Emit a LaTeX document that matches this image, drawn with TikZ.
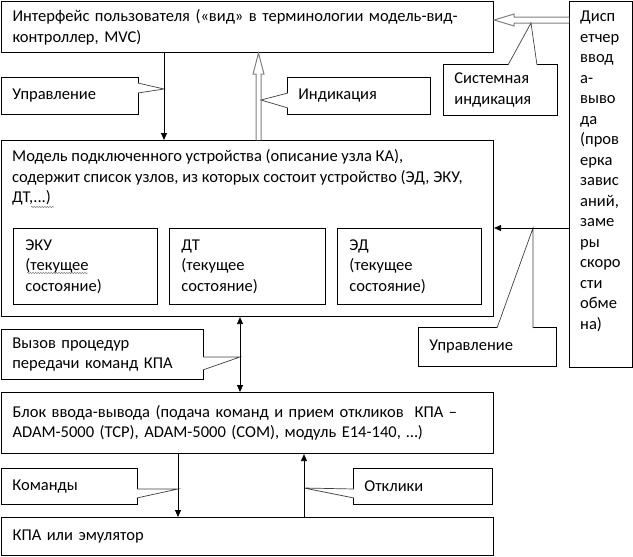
\documentclass[tikz,border=0pt]{standalone}
\usepackage{fontspec}
\setmainfont{Carlito}
\usetikzlibrary{arrows.meta,calc,decorations.pathmorphing}

\tikzset{
  box/.style={draw, line width=1.1pt, anchor=north west, inner xsep=11pt, inner ysep=0pt, align=left},
  part/.style={draw, line width=0.9pt, anchor=north west, inner xsep=12pt, inner ysep=0pt, align=left},
  note/.style={draw, line width=0.8pt, anchor=north west, inner xsep=11pt, inner ysep=0pt, align=left},
  txt/.style={anchor=north west, inner sep=0pt, align=left},
  wedge/.style={draw=black!75, line width=0.7pt, fill=white},
  arr/.style={line width=0.8pt, -{Triangle[length=7pt,width=6pt]}},
  arrboth/.style={line width=0.8pt, {Triangle[length=7pt,width=6pt]}-{Triangle[length=7pt,width=6pt]}},
  hollow/.style={draw=black!50, line width=1pt, fill=white},
  squig/.style={draw=black!50, line width=0.5pt, decorate, decoration={snake, amplitude=0.7pt, segment length=2.6pt}}
}

\begin{document}
\begin{tikzpicture}[x=1pt, y=-1pt, font=\fontsize{16.5}{20.5}\selectfont]
\useasboundingbox (0,0) rectangle (633,557);

% blocks
\node[box, text width=470pt, minimum height=51pt] (ui) at (1,1) {Интерфейс пользователя («вид» в терминологии модель-вид-\\контроллер, MVC)};
\node[box, minimum width=492pt, minimum height=176pt] (mdl) at (1,140) {};
\node[txt] (mdl-t) at (12,147) {\strut Модель подключенного устройства (описание узла КА),\\содержит список узлов, из которых состоит устройство (ЭД, ЭКУ,\\ДТ,...)};
\node[part, text width=120pt, minimum height=76pt] (eku) at (13,228) {ЭКУ\\(текущее\\состояние)};
\node[part, text width=132pt, minimum height=76pt] (dt) at (169,228) {ДТ\\(текущее\\состояние)};
\node[part, text width=120pt, minimum height=76pt] (ed) at (337,228) {ЭД\\(текущее\\состояние)};
\node[box, text width=470pt, minimum height=61pt] (io) at (1,392) {Блок ввода-вывода (подача команд и прием откликов~ КПА –\\ADAM-5000 (TCP), ADAM-5000 (COM), модуль E14-140, …)};
\node[box, text width=470pt, minimum height=38pt] (kpa) at (1,517) {КПА или эмулятор};
\node[box, minimum width=63pt, minimum height=366pt] (disp) at (569,1) {};
\node[txt] (disp-t) at (580,7) {\strut Дисп\\етчер\\ввод\\а-\\выво\\да\\(пров\\ерка\\завис\\аний,\\заме\\ры\\скоро\\сти\\обме\\на)};

% callouts
\node[note, text width=115pt, minimum height=37pt] (ctl) at (1,77) {Управление};
\node[note, text width=121pt, minimum height=37pt] (ind) at (287,77) {Индикация};
\node[note, text width=92pt, minimum height=51pt] (sys) at (443,64) {Системная\\индикация};
\node[note, text width=116pt, minimum height=39pt] (ctl2) at (418,327) {Управление};
\node[note, text width=180pt, minimum height=50pt] (call) at (1,329) {Вызов процедур\\передачи команд КПА};
\node[note, text width=114pt, minimum height=36pt] (cmd) at (1,468) {Команды};
\node[note, text width=117pt, minimum height=36pt] (rsp) at (353,468) {Отклики};

% spelling marks
\draw[squig] (27,273) -- (88,273);
\draw[squig] (31,207) -- (54,207);

% hollow arrows
\coordinate (xi) at (258.5,0);
\coordinate (ys) at (0,20);
\filldraw[hollow] ($(mdl.north -| xi)+(-2.5,0)$) -- ($(ui.south -| xi)+(-2.5,21)$) -- ($(ui.south -| xi)+(-5.5,21)$) -- (ui.south -| xi) -- ($(ui.south -| xi)+(5.5,21)$) -- ($(ui.south -| xi)+(2.5,21)$) -- ($(mdl.north -| xi)+(2.5,0)$);
\filldraw[hollow] ($(disp.west |- ys)+(0,-3)$) -- ($(ui.east |- ys)+(20,-3)$) -- ($(ui.east |- ys)+(20,-6)$) -- (ui.east |- ys) -- ($(ui.east |- ys)+(20,6)$) -- ($(ui.east |- ys)+(20,3)$) -- ($(disp.west |- ys)+(0,3)$);

% callout pointers
\coordinate (ctl-tip) at (164,89);
\coordinate (ind-tip) at (261,100);
\coordinate (sys-tip) at (531,23);
\coordinate (ctl2-tip) at (533,228);
\coordinate (call-tip) at (240,357);
\coordinate (cmd-tip) at (178,489);
\coordinate (rsp-tip) at (304,488);
\filldraw[wedge] ($(ctl.north east)+(-1,6)$) -- (ctl-tip) -- ($(ctl.north east)+(-1,16)$);
\filldraw[wedge] ($(ind.north west)+(1,16)$) -- (ind-tip) -- ($(ind.north west)+(1,31)$);
\filldraw[wedge] ($(sys.north west)+(65,1)$) -- (sys-tip) -- ($(sys.north west)+(94,1)$);
\filldraw[wedge] ($(ctl2.north west)+(79,1)$) -- (ctl2-tip) -- ($(ctl2.north west)+(115,1)$);
\filldraw[wedge] ($(call.north east)+(-1,28)$) -- (call-tip) -- ($(call.north east)+(-1,41)$);
\filldraw[wedge] ($(cmd.north east)+(-1,21)$) -- (cmd-tip) -- ($(cmd.north east)+(-1,30)$);
\filldraw[wedge] ($(rsp.north west)+(1,21)$) -- (rsp-tip) -- ($(rsp.north west)+(1,30)$);

% connectors
\coordinate (c1) at (164,0);
\coordinate (c2) at (0,228);
\coordinate (c3) at (240,0);
\coordinate (c4) at (178,0);
\coordinate (c5) at (304,0);
\draw[arr] (ui.south -| c1) -- (mdl.north -| c1);
\draw[arr] (disp.west |- c2) -- (mdl.east |- c2);
\draw[arrboth] (mdl.south -| c3) -- (io.north -| c3);
\draw[arr] (io.south -| c4) -- (kpa.north -| c4);
\draw[arr] (kpa.north -| c5) -- (io.south -| c5);
\end{tikzpicture}
\end{document}
